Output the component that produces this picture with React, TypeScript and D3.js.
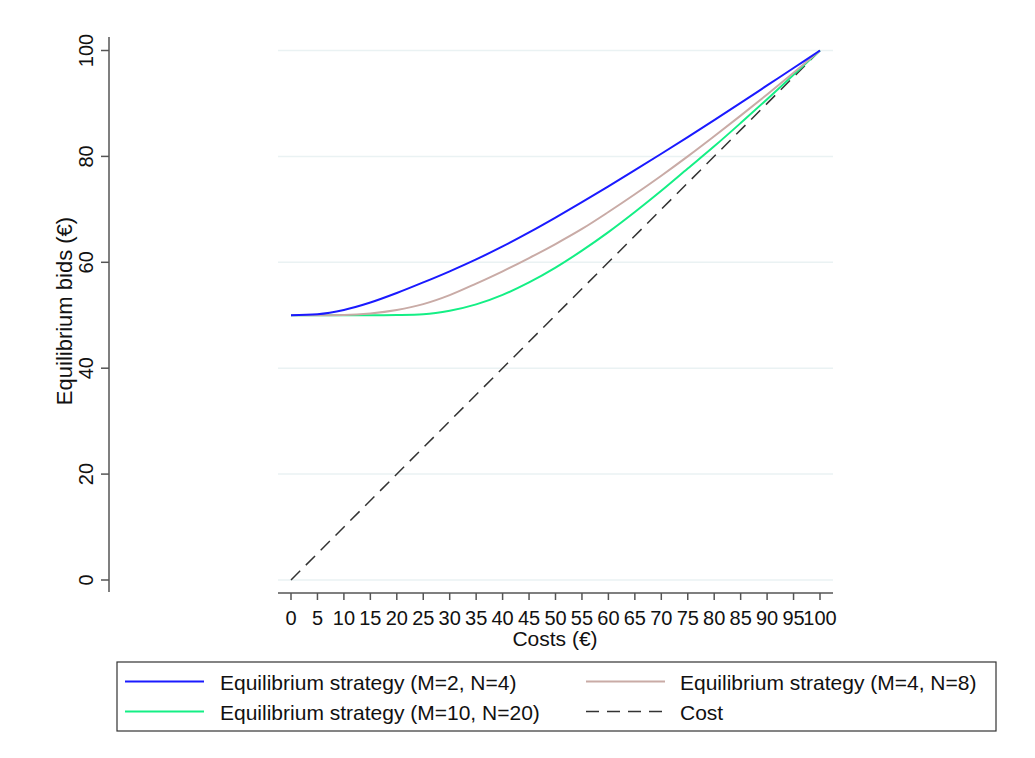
import React from "react";
import * as d3 from "d3";

const costs = [0, 5, 10, 15, 20, 25, 30, 35, 40, 45, 50, 55, 60, 65, 70, 75, 80, 85, 90, 95, 100];
const bidsM2N4 = [50, 50.2, 51.0, 52.4, 54.2, 56.2, 58.3, 60.55, 63.0, 65.65, 68.45, 71.35, 74.35, 77.4, 80.5, 83.65, 86.85, 90.1, 93.4, 96.7, 100];
const bidsM4N8 = [50, 50, 50.05, 50.35, 51.0, 52.1, 53.8, 55.98, 58.3, 60.8, 63.45, 66.3, 69.5, 72.85, 76.35, 80.0, 83.8, 87.7, 91.7, 95.8, 100];
const bidsM10N20 = [50, 50, 50, 50, 50.05, 50.2, 50.85, 52.05, 53.85, 56.2, 59.0, 62.2, 65.7, 69.5, 73.5, 77.7, 81.9, 86.3, 90.8, 95.4, 100];
const costLine = [0, 100];

const xTicks = d3.range(0, 101, 5);
const yTicks = [0, 20, 40, 60, 80, 100];

const legendItems = [
  { label: "Equilibrium strategy (M=2, N=4)", color: "#1a1aff", dash: "" },
  { label: "Equilibrium strategy (M=4, N=8)", color: "#c9aba6", dash: "" },
  { label: "Equilibrium strategy (M=10, N=20)", color: "#14ef85", dash: "" },
  { label: "Cost", color: "#333333", dash: "13 8" },
];

const FONT = "'Liberation Sans', Arial, sans-serif";

export default function App() {
  const W = 1035, H = 758;
  const x = d3.scaleLinear().domain([0, 100]).range([291, 820]);
  const y = d3.scaleLinear().domain([0, 100]).range([580, 50.5]);
  const plotL = 278, plotR = 833;
  const axisY = 593;
  const axisX = 109;

  const line = d3
    .line<[number, number]>()
    .x((d) => x(d[0]))
    .y((d) => y(d[1]))
    .curve(d3.curveMonotoneX);

  const mk = (vals: number[]) => costs.map((c, i) => [c, vals[i]] as [number, number]);
  const series = [
    { pts: mk(bidsM2N4), ...legendItems[0] },
    { pts: mk(bidsM4N8), ...legendItems[1] },
    { pts: mk(bidsM10N20), ...legendItems[2] },
  ];
  const costPts: [number, number][] = costLine.map((c) => [c, c]);

  const legendLineX = [125, 586];
  const legendTextX = [220, 680];
  const legendRows = [681.5, 711.5];

  return (
    <div style={{ position: "absolute", left: 0, top: 0 }}>
      <svg width={W} height={H} style={{ display: "block", background: "#fff" }} fontFamily={FONT}>
        <rect x={0} y={0} width={W} height={H} fill="#fff" />
        {yTicks.map((t) => (
          <line key={"g" + t} x1={plotL} x2={plotR} y1={y(t)} y2={y(t)} stroke="#eaf2f3" strokeWidth={1.5} />
        ))}
        <line x1={axisX} x2={axisX} y1={37} y2={592} stroke="#555" strokeWidth={1.5} />
        {yTicks.map((t) => (
          <g key={"y" + t}>
            <line x1={axisX - 8} x2={axisX} y1={y(t)} y2={y(t)} stroke="#555" strokeWidth={1.5} />
            <text transform={`translate(93,${y(t)}) rotate(-90)`} textAnchor="middle" fontSize={20} fill="#111">
              {t}
            </text>
          </g>
        ))}
        <text transform={`translate(72,311) rotate(-90)`} textAnchor="middle" fontSize={22} fill="#111">
          Equilibrium bids (€)
        </text>
        <line x1={plotL} x2={plotR} y1={axisY} y2={axisY} stroke="#555" strokeWidth={1.5} />
        {xTicks.map((t) => (
          <g key={"x" + t}>
            <line x1={x(t)} x2={x(t)} y1={axisY} y2={axisY + 7} stroke="#555" strokeWidth={1.5} />
            <text x={x(t)} y={625} textAnchor="middle" fontSize={20} fill="#111">
              {t}
            </text>
          </g>
        ))}
        <text x={555} y={646} textAnchor="middle" fontSize={21} fill="#111">
          Costs (€)
        </text>
        <path d={line(costPts) || ""} fill="none" stroke="#333" strokeWidth={1.5} strokeDasharray="13 8" />
        {series
          .slice()
          .reverse()
          .map((s) => (
            <path key={s.label} d={line(s.pts) || ""} fill="none" stroke={s.color} strokeWidth={2} />
          ))}
        <rect x={117} y={662} width={879} height={69} fill="#fff" stroke="#333" strokeWidth={1.2} />
        {legendItems.map((it, i) => {
          const col = i % 2;
          const cy = legendRows[Math.floor(i / 2)];
          return (
            <g key={it.label}>
              <line
                x1={legendLineX[col]}
                x2={legendLineX[col] + 79}
                y1={cy}
                y2={cy}
                stroke={it.color}
                strokeWidth={it.dash ? 1.5 : 2}
                strokeDasharray={it.dash || undefined}
              />
              <text x={legendTextX[col]} y={cy + 8} fontSize={21} fill="#111">
                {it.label}
              </text>
            </g>
          );
        })}
      </svg>
    </div>
  );
}
